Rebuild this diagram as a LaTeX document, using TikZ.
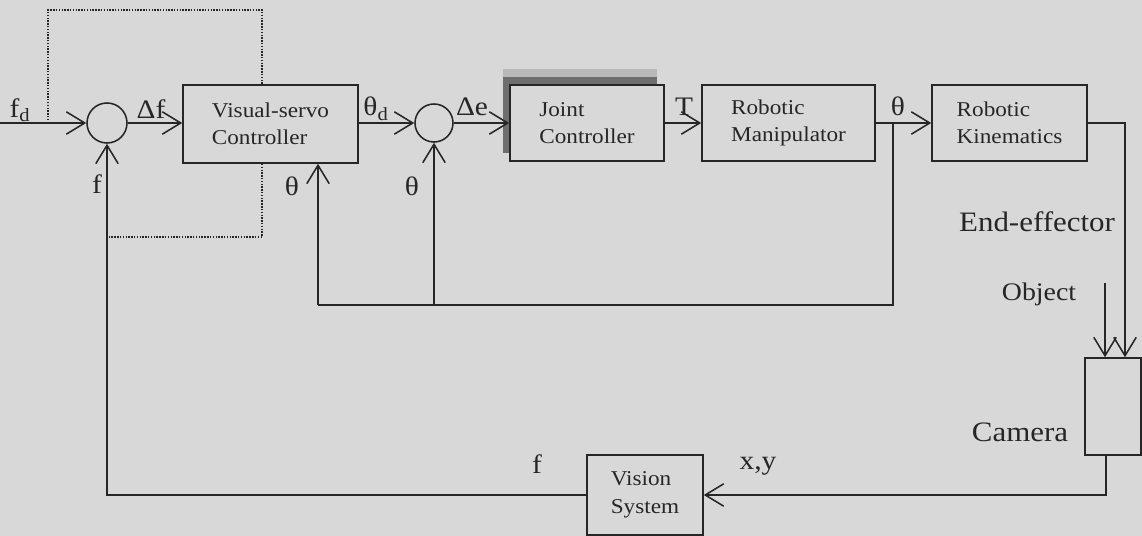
\documentclass[tikz,border=0pt]{standalone}
\usepackage{fontspec}
\setmainfont{Liberation Serif}[FakeStretch=1.1]
\usepackage{tikz}
\usetikzlibrary{
  arrows.meta,
  positioning,
  shadows,
}
\definecolor{paper}{HTML}{D8D8D8}
\definecolor{ink}{HTML}{262626}
\definecolor{shade}{HTML}{6E6E6E}
\definecolor{haze}{HTML}{B9B9B9}

\begin{document}
\begin{tikzpicture}[x=0.025cm, y=-0.025cm, color=ink, line width=1.1pt,
  sig/.style={-{Straight Barb[length=4.6mm, width=5.6mm]}},
  blk/.style={draw, fill=paper, align=left, inner sep=0pt,
    font=\fontsize{15}{19.5}\selectfont},
  sum/.style={circle, draw, fill=paper, inner sep=0pt},
  lbl/.style={inner sep=0pt, font=\fontsize{19}{21}\selectfont},
  big/.style={inner sep=0pt, font=\fontsize{20}{23}\selectfont},
]
  \fill[paper] (0,0) rectangle (1142,536);
  \useasboundingbox (0,0) rectangle (1142,536);

  % dotted frame round the visual-servo controller
  \draw[densely dotted, line width=1pt] (48,123) |- (262,10) -- (262,237) -- (108,237);

  \node[sum, minimum size=1cm]    (sum1) at (107,123) {};
  \node[sum, minimum size=0.95cm] (sum2) at (434,123) {};
  \node[blk, minimum width=4.375cm, minimum height=1.95cm] (servo) at (270.5,124) {Visual-servo\\Controller};
  \node[blk, minimum width=3.85cm, minimum height=1.9cm,
    general shadow={fill=haze, shadow xshift=-0.175cm, shadow yshift=0.4cm},
    general shadow={fill=shade, shadow xshift=-0.175cm, shadow yshift=0.2cm}] (joint) at (587,123) {Joint\\Controller};
  \node[blk, minimum width=4.325cm, minimum height=1.9cm] (manip) at (788.5,123) {Robotic\\Manipulator};
  \node[blk, minimum width=3.875cm, minimum height=1.9cm] (kin) at (1009.5,123) {Robotic\\Kinematics};
  \node[blk, minimum width=1.4cm, minimum height=2.425cm] (cam) at (1113,406.5) {};
  \node[blk, minimum width=2.9cm, minimum height=2cm] (vision) at (645,495) {Vision\\System};

  \coordinate (fin)   at (0,123);
  \coordinate (split) at (893,123);
  \coordinate (fbk)   at (893,305);
  \coordinate (tap1)  at (318,305);
  \coordinate (tap2)  at (434,305);
  \coordinate (kturn) at (1125,123);
  \coordinate (obj)   at (1105,283);
  \coordinate (cturn) at (1106,495);
  \coordinate (lturn) at (107,495);

  % forward path
  \draw[sig] (fin) -- (sum1);
  \draw[sig] (sum1) -- (servo.west |- sum1);
  \draw[sig] (servo.east |- sum2) -- (sum2);
  \draw[sig] (sum2) -- (joint.west |- sum2);
  \draw[sig] (joint) -- (manip);
  \draw[sig] (manip) -- (kin);
  \draw[sig] (kin) -- (kturn) -- (kturn |- cam.north);
  \draw[sig] (obj) -- (obj |- cam.north);

  % feedback paths
  \draw (split) -- (fbk) -- (tap1);
  \draw[sig] (tap1) -- (tap1 |- servo.south);
  \draw[sig] (tap2) -- (sum2);
  \draw[sig] (cturn |- cam.south) -- (cturn) -- (vision.east |- cturn);
  \draw[sig] (vision.west |- lturn) -- (lturn) -- (sum1);

  % signal labels
  \node[lbl] (lfd)   at (20,110)  {f\textsubscript{d}};
  \node[lbl] (ldf)   at (151,109) {Δf};
  \node[lbl] (lthd)  at (376,109) {θ\textsubscript{d}};
  \node[lbl] (lde)   at (472,107) {Δe};
  \node[lbl] (ltau)  at (684,107) {T};
  \node[lbl] (lth)   at (898,106) {θ};
  \node[lbl] (lf)    at (97,184)  {f};
  \node[lbl] (lth1)  at (292,186) {θ};
  \node[lbl] (lth2)  at (412,186) {θ};
  \node[lbl] (lfv)   at (537,464) {f};
  \node[lbl] (lxy)   at (758,466) {x,y};
  \node[big] (lend)  at (1037,222) {End-effector};
  \node[inner sep=0pt, font=\fontsize{18}{21}\selectfont] (lobj) at (1039,294) {Object};
  \node[big] (lcam)  at (1020,432) {Camera};
\end{tikzpicture}
\end{document}
